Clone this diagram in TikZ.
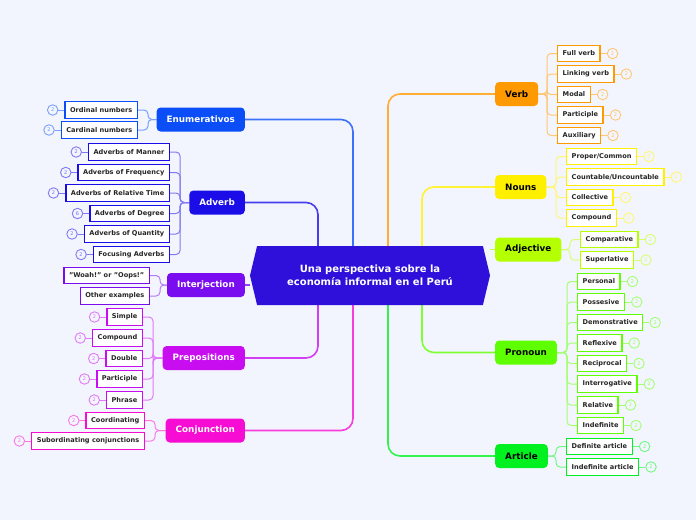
\documentclass[tikz,border=0pt]{standalone}
\usepackage{fontspec}
\setmainfont{DejaVu Sans}
\usetikzlibrary{positioning, backgrounds, shapes.symbols}
\definecolor{bgc}{HTML}{F3F5FE}
\definecolor{corec}{HTML}{2F10DA}
\definecolor{enumc}{HTML}{0B4EF7}
\definecolor{advc}{HTML}{1A0DE8}
\definecolor{intc}{HTML}{7A0DF0}
\definecolor{prepc}{HTML}{C80DF0}
\definecolor{conjc}{HTML}{F60CD2}
\definecolor{verbc}{HTML}{FF9900}
\definecolor{nounc}{HTML}{FFF000}
\definecolor{adjc}{HTML}{B4FF00}
\definecolor{pronc}{HTML}{5EFF00}
\definecolor{artc}{HTML}{00F020}
\tikzset{
  hub/.style={signal, signal to=west and east, signal pointer angle=153,
    fill=corec, minimum width=240pt, minimum height=59pt, text=white,
    align=center, font=\fontsize{10}{13}\selectfont\bfseries},
  topic/.style={fill=#1, rounded corners=4pt, minimum height=24pt,
    inner xsep=10pt, inner ysep=0pt, font=\fontsize{8.8}{10}\selectfont\bfseries},
  leaf/.style={draw=#1, line width=1.4pt, fill=white, minimum height=16.5pt,
    inner xsep=5pt, inner ysep=0pt, text=black!85,
    font=\fontsize{6.6}{8}\selectfont\bfseries},
  badge/.style={circle, draw=#1!55!white, line width=0.9pt, fill=bgc,
    minimum size=10.5pt, inner sep=0pt, text=#1!60!white,
    font=\fontsize{5}{5}\selectfont},
  twig/.style={draw=#1!55!white, line width=1pt, rounded corners=4pt},
  stem/.style={draw=#1!80!white, line width=1.6pt, rounded corners=12pt}
}
\begin{document}
\begin{tikzpicture}[x=1pt,y=-1pt]
  \useasboundingbox (0,0) rectangle (696,520);

  \node[hub] (core) at (370,275.5) {Una perspectiva sobre la\\economía informal en el Perú};

  % left topics
  \node[topic=enumc, text=white, anchor=east] (enum) at (245,119.5) {Enumerativos};
  \node[topic=advc, text=white, anchor=east] (adv) at (245,202.5) {Adverb};
  \node[topic=intc, text=white, anchor=east] (inter) at (245,285) {Interjection};
  \node[topic=prepc, text=white, anchor=east] (prep) at (245,358) {Prepositions};
  \node[topic=conjc, text=white, anchor=east] (conj) at (245,430.5) {Conjunction};

  % right topics
  \node[topic=verbc, anchor=west] (verb) at (495,94) {Verb};
  \node[topic=nounc, anchor=west] (noun) at (495,187) {Nouns};
  \node[topic=adjc, anchor=west] (adj) at (495,249.5) {Adjective};
  \node[topic=pronc, anchor=west] (pron) at (495,352.5) {Pronoun};
  \node[topic=artc, anchor=west] (art) at (495,456) {Article};

  % Enumerativos
  \node[leaf=enumc, anchor=east] (ord) at (138,110) {Ordinal numbers};
  \node[badge=enumc, left=6pt of ord] (ordb) {2};
  \node[leaf=enumc, anchor=east] (card) at (138,130) {Cardinal numbers};
  \node[badge=enumc, left=6pt of card] (cardb) {2};

  % Adverb
  \node[leaf=advc, anchor=east] (manner) at (170,152) {Adverbs of Manner};
  \node[badge=advc, left=6pt of manner] (mannerb) {2};
  \node[leaf=advc, anchor=east] (freq) at (170,172.5) {Adverbs of Frequency};
  \node[badge=advc, left=6pt of freq] (freqb) {2};
  \node[leaf=advc, anchor=east] (reltime) at (170,193) {Adverbs of Relative Time};
  \node[badge=advc, left=6pt of reltime] (reltimeb) {2};
  \node[leaf=advc, anchor=east] (degree) at (170,213.5) {Adverbs of Degree};
  \node[badge=advc, left=6pt of degree] (degreeb) {6};
  \node[leaf=advc, anchor=east] (quant) at (170,234) {Adverbs of Quantity};
  \node[badge=advc, left=6pt of quant] (quantb) {2};
  \node[leaf=advc, anchor=east] (focus) at (170,254.5) {Focusing Adverbs};
  \node[badge=advc, left=6pt of focus] (focusb) {2};

  % Interjection
  \node[leaf=intc, anchor=east] (woah) at (150,275.5) {"Woah!" or "Oops!"};
  \node[leaf=intc, anchor=east] (other) at (150,296) {Other examples};

  % Prepositions
  \node[leaf=prepc, anchor=east] (simple) at (143,317) {Simple};
  \node[badge=prepc, left=6pt of simple] (simpleb) {2};
  \node[leaf=prepc, anchor=east] (pcomp) at (143,338) {Compound};
  \node[badge=prepc, left=6pt of pcomp] (pcompb) {2};
  \node[leaf=prepc, anchor=east] (double) at (143,358.5) {Double};
  \node[badge=prepc, left=6pt of double] (doubleb) {2};
  \node[leaf=prepc, anchor=east] (ppart) at (143,379) {Participle};
  \node[badge=prepc, left=6pt of ppart] (ppartb) {2};
  \node[leaf=prepc, anchor=east] (phrase) at (143,400) {Phrase};
  \node[badge=prepc, left=6pt of phrase] (phraseb) {2};

  % Conjunction
  \node[leaf=conjc, anchor=east] (coord) at (145,420.5) {Coordinating};
  \node[badge=conjc, left=6pt of coord] (coordb) {2};
  \node[leaf=conjc, anchor=east] (subord) at (145,441) {Subordinating conjunctions};
  \node[badge=conjc, left=6pt of subord] (subordb) {2};

  % Verb
  \node[leaf=verbc, anchor=west] (full) at (557,53.5) {Full verb};
  \node[badge=verbc, right=6pt of full] (fullb) {2};
  \node[leaf=verbc, anchor=west] (linking) at (557,74) {Linking verb};
  \node[badge=verbc, right=6pt of linking] (linkingb) {2};
  \node[leaf=verbc, anchor=west] (modal) at (557,94.5) {Modal};
  \node[badge=verbc, right=6pt of modal] (modalb) {2};
  \node[leaf=verbc, anchor=west] (vpart) at (557,115) {Participle};
  \node[badge=verbc, right=6pt of vpart] (vpartb) {2};
  \node[leaf=verbc, anchor=west] (aux) at (557,135.5) {Auxiliary};
  \node[badge=verbc, right=6pt of aux] (auxb) {2};

  % Nouns
  \node[leaf=nounc, anchor=west] (proper) at (566,156.5) {Proper/Common};
  \node[badge=nounc, right=6pt of proper] (properb) {2};
  \node[leaf=nounc, anchor=west] (countable) at (566,177) {Countable/Uncountable};
  \node[badge=nounc, right=6pt of countable] (countableb) {2};
  \node[leaf=nounc, anchor=west] (collective) at (566,197.5) {Collective};
  \node[badge=nounc, right=6pt of collective] (collectiveb) {2};
  \node[leaf=nounc, anchor=west] (ncomp) at (566,218) {Compound};
  \node[badge=nounc, right=6pt of ncomp] (ncompb) {2};

  % Adjective
  \node[leaf=adjc, anchor=west] (compar) at (580,239.5) {Comparative};
  \node[badge=adjc, right=6pt of compar] (comparb) {2};
  \node[leaf=adjc, anchor=west] (superl) at (580,260) {Superlative};
  \node[badge=adjc, right=6pt of superl] (superlb) {2};

  % Pronoun
  \node[leaf=pronc, anchor=west] (personal) at (577,281.5) {Personal};
  \node[badge=pronc, right=6pt of personal] (personalb) {2};
  \node[leaf=pronc, anchor=west] (possesive) at (577,302) {Possesive};
  \node[badge=pronc, right=6pt of possesive] (possesiveb) {2};
  \node[leaf=pronc, anchor=west] (demonstr) at (577,322.5) {Demonstrative};
  \node[badge=pronc, right=6pt of demonstr] (demonstrb) {2};
  \node[leaf=pronc, anchor=west] (reflexive) at (577,343) {Reflexive};
  \node[badge=pronc, right=6pt of reflexive] (reflexiveb) {2};
  \node[leaf=pronc, anchor=west] (reciproc) at (577,363.5) {Reciprocal};
  \node[badge=pronc, right=6pt of reciproc] (reciprocb) {2};
  \node[leaf=pronc, anchor=west] (interrog) at (577,384) {Interrogative};
  \node[badge=pronc, right=6pt of interrog] (interrogb) {2};
  \node[leaf=pronc, anchor=west] (relative) at (577,405) {Relative};
  \node[badge=pronc, right=6pt of relative] (relativeb) {2};
  \node[leaf=pronc, anchor=west] (indef) at (577,425.5) {Indefinite};
  \node[badge=pronc, right=6pt of indef] (indefb) {2};

  % Article
  \node[leaf=artc, anchor=west] (definite) at (566,446.5) {Definite article};
  \node[badge=artc, right=6pt of definite] (definiteb) {2};
  \node[leaf=artc, anchor=west] (indefart) at (566,467) {Indefinite article};
  \node[badge=artc, right=6pt of indefart] (indefartb) {2};

  \begin{scope}[on background layer]
  \fill[bgc] (0,0) rectangle (696,520);

  % stems to the centre
  \draw[stem=enumc] (enum.east) -| ([xshift=-17pt]core.north);
  \draw[stem=advc] (adv.east) -| ([xshift=-52pt]core.north);
  \draw[stem=intc] (inter.east) -- (inter.east -| core.west);
  \draw[stem=prepc] (prep.east) -| ([xshift=-52pt]core.south);
  \draw[stem=conjc] (conj.east) -| ([xshift=-17pt]core.south);
  \draw[stem=verbc] (verb.west) -| ([xshift=18pt]core.north);
  \draw[stem=nounc] (noun.west) -| ([xshift=52pt]core.north);
  \draw[stem=adjc] (adj.west) -- (adj.west -| core.east);
  \draw[stem=pronc] (pron.west) -| ([xshift=52pt]core.south);
  \draw[stem=artc] (art.west) -| ([xshift=18pt]core.south);

  % brackets, left
  \draw[twig=enumc] (ord.east) -- ++(10,0) |- (enum.west);
  \draw[twig=enumc] (card.east) -- ++(10,0) |- (enum.west);
  \draw[twig=advc] (manner.east) -- ++(10,0) |- (adv.west);
  \draw[twig=advc] (freq.east) -- ++(10,0) |- (adv.west);
  \draw[twig=advc] (reltime.east) -- ++(10,0) |- (adv.west);
  \draw[twig=advc] (degree.east) -- ++(10,0) |- (adv.west);
  \draw[twig=advc] (quant.east) -- ++(10,0) |- (adv.west);
  \draw[twig=advc] (focus.east) -- ++(10,0) |- (adv.west);
  \draw[twig=intc] (woah.east) -- ++(10,0) |- (inter.west);
  \draw[twig=intc] (other.east) -- ++(10,0) |- (inter.west);
  \draw[twig=prepc] (simple.east) -- ++(10,0) |- (prep.west);
  \draw[twig=prepc] (pcomp.east) -- ++(10,0) |- (prep.west);
  \draw[twig=prepc] (double.east) -- ++(10,0) |- (prep.west);
  \draw[twig=prepc] (ppart.east) -- ++(10,0) |- (prep.west);
  \draw[twig=prepc] (phrase.east) -- ++(10,0) |- (prep.west);
  \draw[twig=conjc] (coord.east) -- ++(10,0) |- (conj.west);
  \draw[twig=conjc] (subord.east) -- ++(10,0) |- (conj.west);

  % brackets, right
  \draw[twig=verbc] (full.west) -- ++(-10,0) |- (verb.east);
  \draw[twig=verbc] (linking.west) -- ++(-10,0) |- (verb.east);
  \draw[twig=verbc] (modal.west) -- ++(-10,0) |- (verb.east);
  \draw[twig=verbc] (vpart.west) -- ++(-10,0) |- (verb.east);
  \draw[twig=verbc] (aux.west) -- ++(-10,0) |- (verb.east);
  \draw[twig=nounc] (proper.west) -- ++(-10,0) |- (noun.east);
  \draw[twig=nounc] (countable.west) -- ++(-10,0) |- (noun.east);
  \draw[twig=nounc] (collective.west) -- ++(-10,0) |- (noun.east);
  \draw[twig=nounc] (ncomp.west) -- ++(-10,0) |- (noun.east);
  \draw[twig=adjc] (compar.west) -- ++(-10,0) |- (adj.east);
  \draw[twig=adjc] (superl.west) -- ++(-10,0) |- (adj.east);
  \draw[twig=pronc] (personal.west) -- ++(-10,0) |- (pron.east);
  \draw[twig=pronc] (possesive.west) -- ++(-10,0) |- (pron.east);
  \draw[twig=pronc] (demonstr.west) -- ++(-10,0) |- (pron.east);
  \draw[twig=pronc] (reflexive.west) -- ++(-10,0) |- (pron.east);
  \draw[twig=pronc] (reciproc.west) -- ++(-10,0) |- (pron.east);
  \draw[twig=pronc] (interrog.west) -- ++(-10,0) |- (pron.east);
  \draw[twig=pronc] (relative.west) -- ++(-10,0) |- (pron.east);
  \draw[twig=pronc] (indef.west) -- ++(-10,0) |- (pron.east);
  \draw[twig=artc] (definite.west) -- ++(-10,0) |- (art.east);
  \draw[twig=artc] (indefart.west) -- ++(-10,0) |- (art.east);

  % badges
  \draw[twig=enumc] (ordb) -- (ord);
  \draw[twig=enumc] (cardb) -- (card);
  \draw[twig=advc] (mannerb) -- (manner);
  \draw[twig=advc] (freqb) -- (freq);
  \draw[twig=advc] (reltimeb) -- (reltime);
  \draw[twig=advc] (degreeb) -- (degree);
  \draw[twig=advc] (quantb) -- (quant);
  \draw[twig=advc] (focusb) -- (focus);
  \draw[twig=prepc] (simpleb) -- (simple);
  \draw[twig=prepc] (pcompb) -- (pcomp);
  \draw[twig=prepc] (doubleb) -- (double);
  \draw[twig=prepc] (ppartb) -- (ppart);
  \draw[twig=prepc] (phraseb) -- (phrase);
  \draw[twig=conjc] (coordb) -- (coord);
  \draw[twig=conjc] (subordb) -- (subord);
  \draw[twig=verbc] (fullb) -- (full);
  \draw[twig=verbc] (linkingb) -- (linking);
  \draw[twig=verbc] (modalb) -- (modal);
  \draw[twig=verbc] (vpartb) -- (vpart);
  \draw[twig=verbc] (auxb) -- (aux);
  \draw[twig=nounc] (properb) -- (proper);
  \draw[twig=nounc] (countableb) -- (countable);
  \draw[twig=nounc] (collectiveb) -- (collective);
  \draw[twig=nounc] (ncompb) -- (ncomp);
  \draw[twig=adjc] (comparb) -- (compar);
  \draw[twig=adjc] (superlb) -- (superl);
  \draw[twig=pronc] (personalb) -- (personal);
  \draw[twig=pronc] (possesiveb) -- (possesive);
  \draw[twig=pronc] (demonstrb) -- (demonstr);
  \draw[twig=pronc] (reflexiveb) -- (reflexive);
  \draw[twig=pronc] (reciprocb) -- (reciproc);
  \draw[twig=pronc] (interrogb) -- (interrog);
  \draw[twig=pronc] (relativeb) -- (relative);
  \draw[twig=pronc] (indefb) -- (indef);
  \draw[twig=artc] (definiteb) -- (definite);
  \draw[twig=artc] (indefartb) -- (indefart);
  \end{scope}
\end{tikzpicture}
\end{document}
